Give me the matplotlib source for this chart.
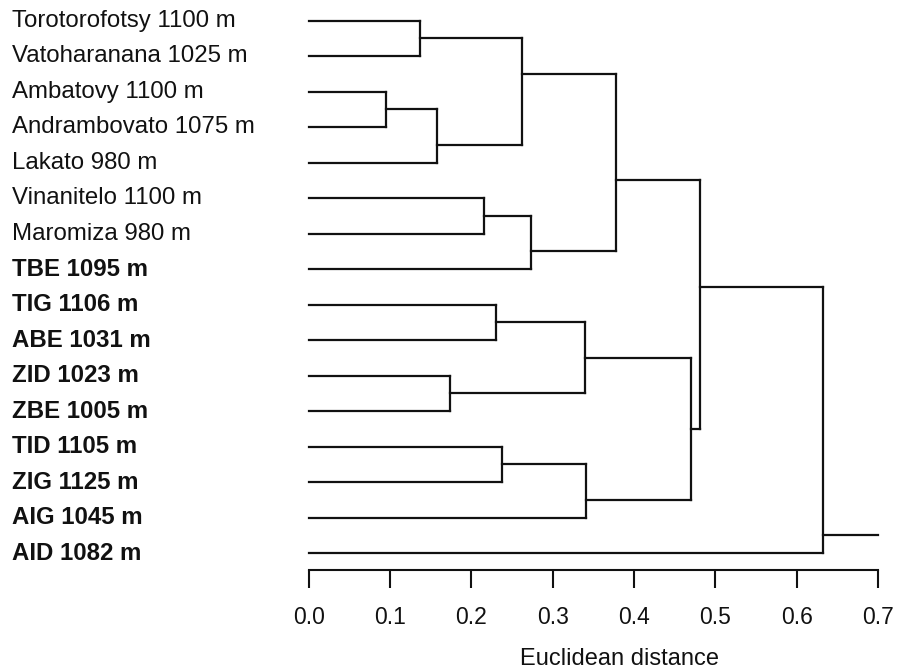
import matplotlib
matplotlib.use('Agg')
import matplotlib.pyplot as plt
import matplotlib.transforms as mtransforms

plt.rcParams['font.family'] = ['Liberation Sans', 'DejaVu Sans']

# leaves, top to bottom
site_labels = ['Torotorofotsy 1100 m', 'Vatoharanana 1025 m', 'Ambatovy 1100 m',
               'Andrambovato 1075 m', 'Lakato 980 m', 'Vinanitelo 1100 m',
               'Maromiza 980 m', 'TBE 1095 m', 'TIG 1106 m', 'ABE 1031 m',
               'ZID 1023 m', 'ZBE 1005 m', 'TID 1105 m', 'ZIG 1125 m',
               'AIG 1045 m', 'AID 1082 m']
site_bold = [False] * 7 + [True] * 9

# merges: (cluster a, cluster b, distance); new ids start at len(site_labels)
merge_a = [0, 2, 17, 16, 5, 20, 19, 8, 10, 23, 12, 26, 25, 22, 29]
merge_b = [1, 3, 4, 18, 6, 7, 21, 9, 11, 24, 13, 14, 27, 28, 15]
merge_dist = [0.137, 0.095, 0.158, 0.262, 0.216, 0.274, 0.378, 0.230,
              0.174, 0.340, 0.2375, 0.341, 0.470, 0.481, 0.632]
root_end = 0.7

fig = plt.figure(figsize=(9.03, 6.70), dpi=100)
ax = fig.add_axes([308.6 / 903, 100 / 670, 569.4 / 903, 570 / 670])

lw = 1.6
col = '#111111'
n = len(site_labels)
# per cluster: (y position, height, first leaf, last leaf)
node = {i: (i, 0.0, i, i) for i in range(n)}
for k, (a, b, d) in enumerate(zip(merge_a, merge_b, merge_dist)):
    ya, ha, lo_a, hi_a = node[a]
    yb, hb, lo_b, hi_b = node[b]
    if lo_a > lo_b:
        ya, ha, lo_a, hi_a, yb, hb, lo_b, hi_b = yb, hb, lo_b, hi_b, ya, ha, lo_a, hi_a
    ax.plot([ha, d], [ya, ya], color=col, lw=lw, solid_capstyle='projecting', clip_on=False)
    ax.plot([hb, d], [yb, yb], color=col, lw=lw, solid_capstyle='projecting', clip_on=False)
    ax.plot([d, d], [ya, yb], color=col, lw=lw, solid_capstyle='projecting', clip_on=False)
    # node drawn at the gap between its two subtrees
    node[n + k] = ((hi_a + lo_b) / 2, d, lo_a, hi_b)

y_root, h_root, _, _ = node[n + len(merge_dist) - 1]
ax.plot([h_root, root_end], [y_root, y_root], color=col, lw=lw, clip_on=False)

trans = mtransforms.blended_transform_factory(ax.transAxes, ax.transData)
for i, (lab, b) in enumerate(zip(site_labels, site_bold)):
    ax.text((12 - 308.6) / 569.4, i, lab, transform=trans, ha='left', va='center',
            fontsize=17.3, fontweight='bold' if b else 'normal', color='#111111')

ax.set_xlim(0, 0.7)
ax.set_ylim(15.473, -0.583)
ax.set_yticks([])
for s in ['left', 'top', 'right']:
    ax.spines[s].set_visible(False)
ax.spines['bottom'].set_bounds(0, 0.7)
ax.spines['bottom'].set_linewidth(1.5)
ax.spines['bottom'].set_color(col)
ax.set_xticks([0.0, 0.1, 0.2, 0.3, 0.4, 0.5, 0.6, 0.7])
ax.set_xticklabels(['0.0', '0.1', '0.2', '0.3', '0.4', '0.5', '0.6', '0.7'])
ax.tick_params(axis='x', length=13, width=1.5, pad=13, labelsize=16.5, colors=col)

fig.text(620 / 903, 1 - 665 / 670, 'Euclidean distance', ha='center', va='baseline',
         fontsize=17, color='#111111')

fig.savefig('out.png', dpi=100)
